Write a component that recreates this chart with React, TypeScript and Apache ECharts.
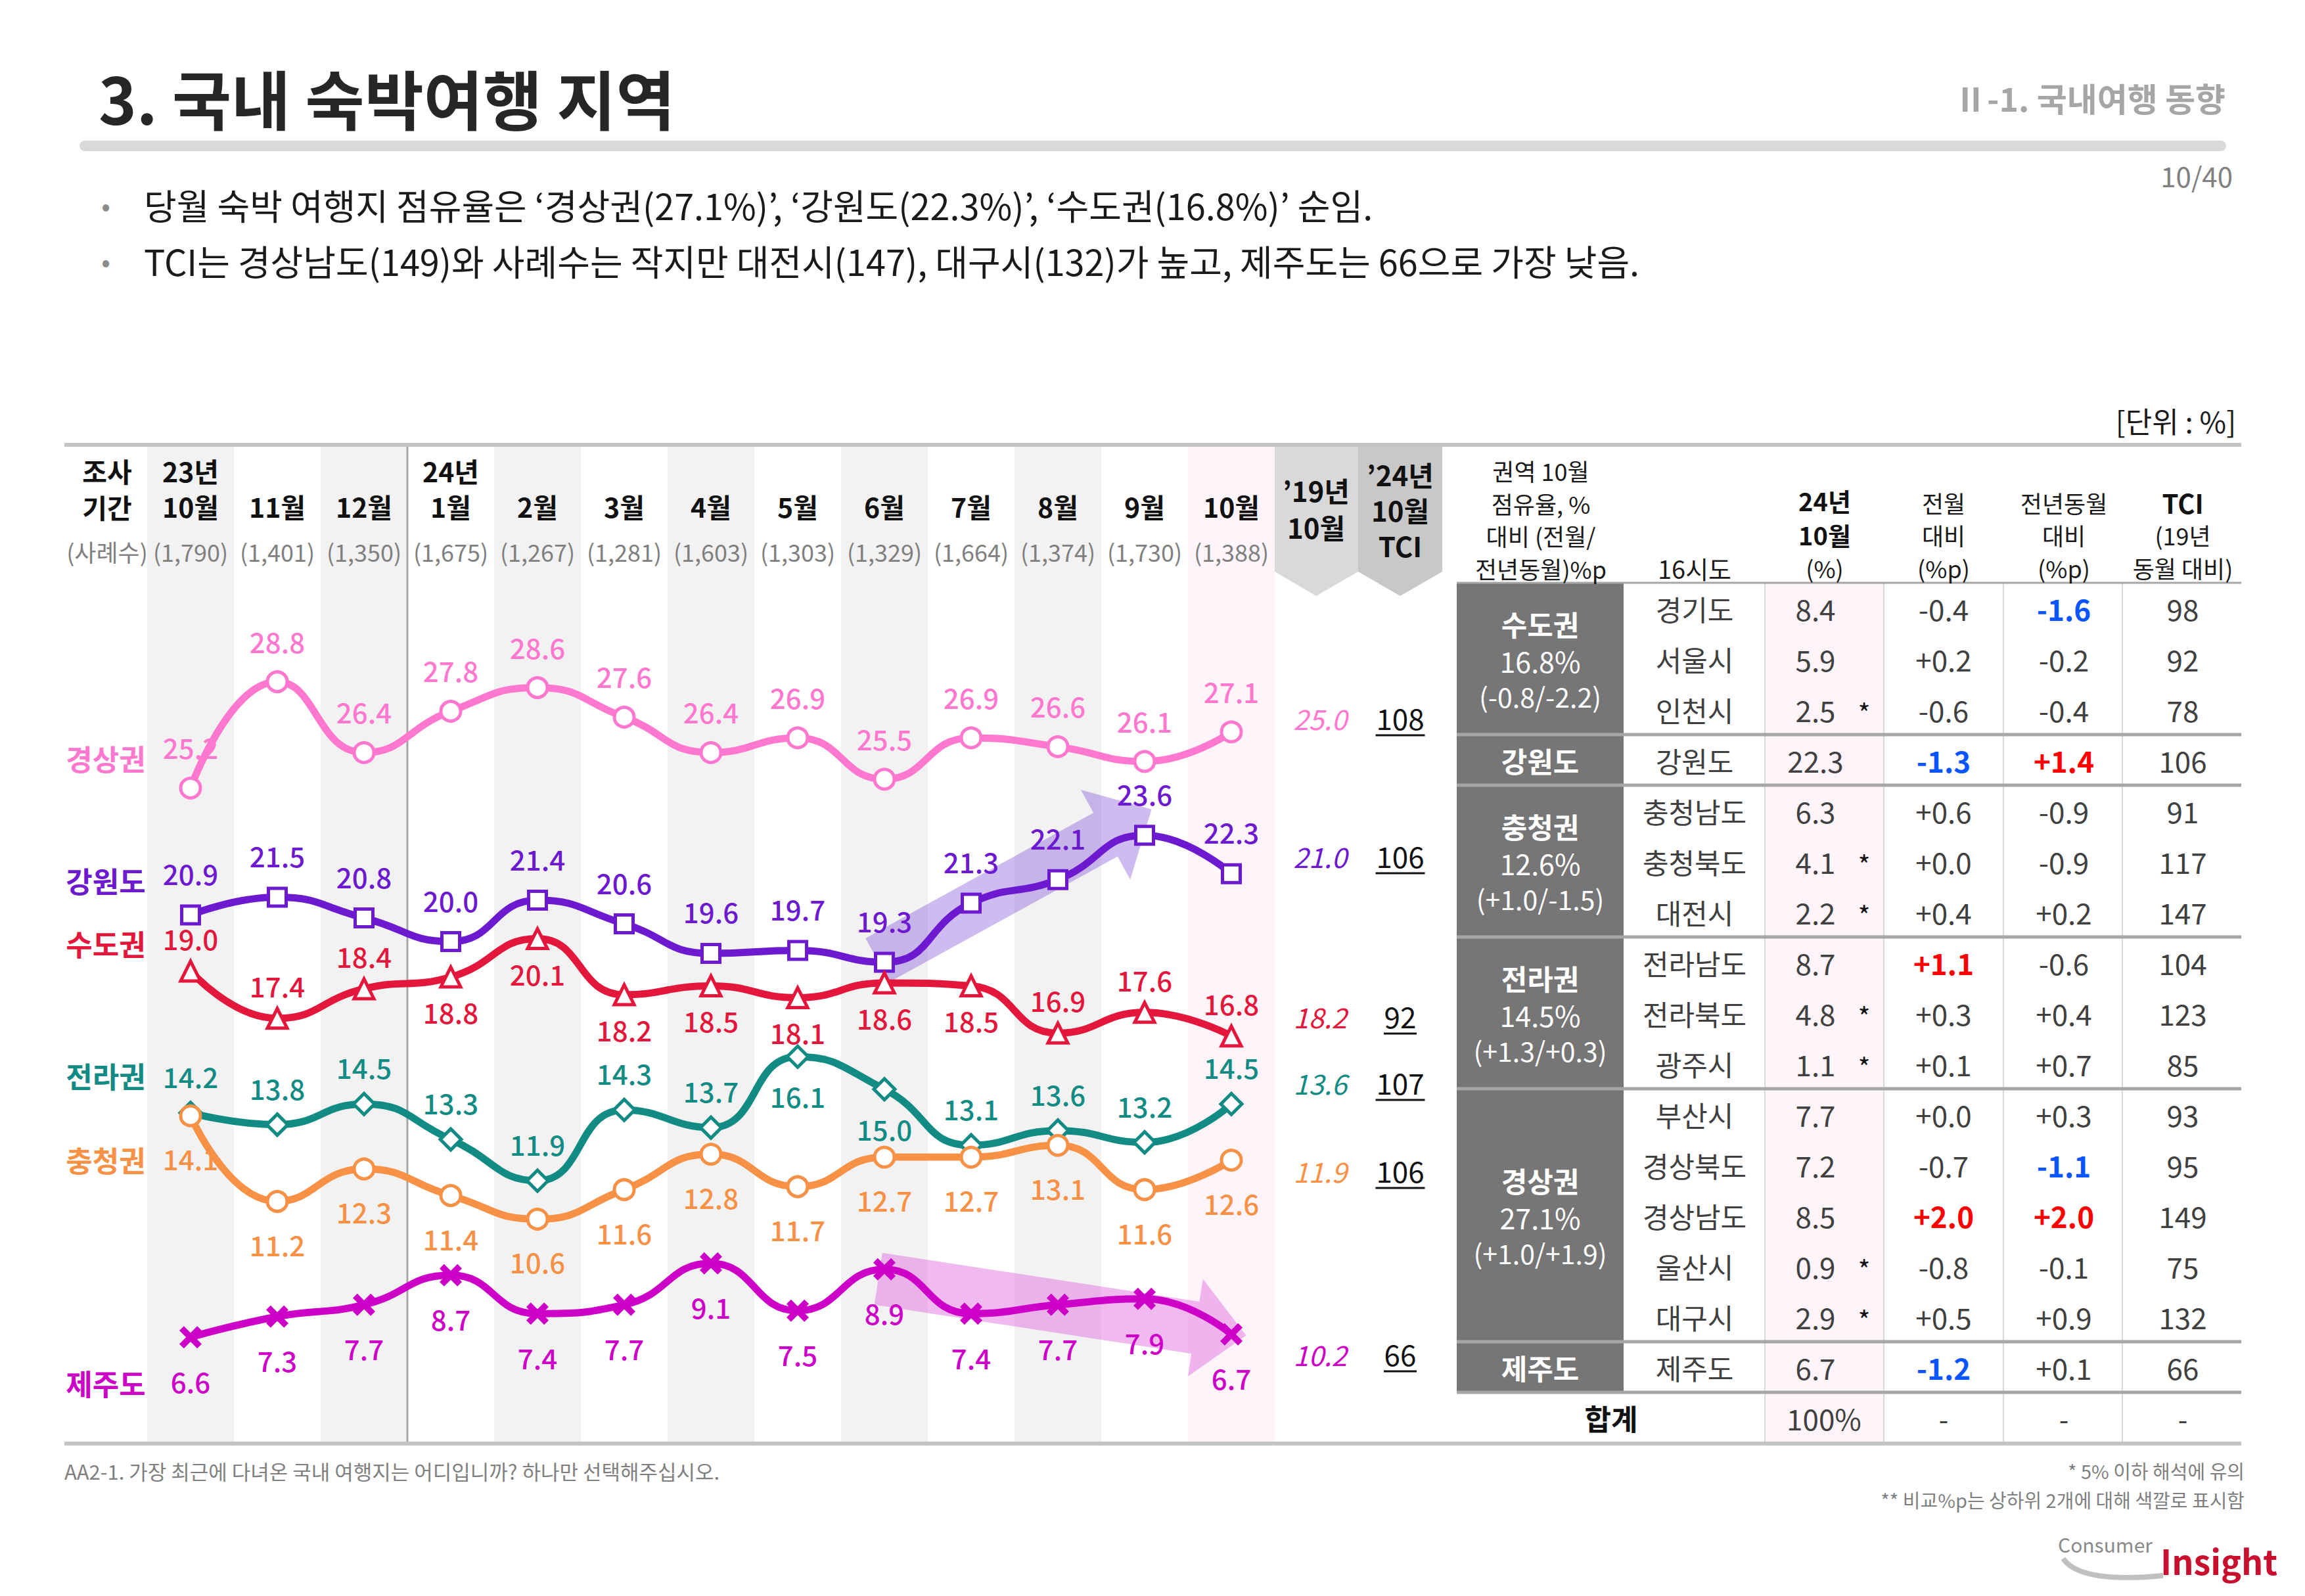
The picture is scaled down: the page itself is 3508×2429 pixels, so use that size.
import React, { useEffect, useRef } from 'react';
import * as echarts from 'echarts';

// ---------------- data ----------------
const yearRow = ['23년', '', '', '24년', '', '', '', '', '', '', '', '', ''];
const monthRow = ['10월', '11월', '12월', '1월', '2월', '3월', '4월', '5월', '6월', '7월', '8월', '9월', '10월'];
const sampleCounts = ['(1,790)', '(1,401)', '(1,350)', '(1,675)', '(1,267)', '(1,281)', '(1,603)', '(1,303)', '(1,329)', '(1,664)', '(1,374)', '(1,730)', '(1,388)'];

const seriesNames = ['경상권', '강원도', '수도권', '전라권', '충청권', '제주도'];
const gyeongsang = [25.2, 28.8, 26.4, 27.8, 28.6, 27.6, 26.4, 26.9, 25.5, 26.9, 26.6, 26.1, 27.1];
const gangwon = [20.9, 21.5, 20.8, 20.0, 21.4, 20.6, 19.6, 19.7, 19.3, 21.3, 22.1, 23.6, 22.3];
const sudo = [19.0, 17.4, 18.4, 18.8, 20.1, 18.2, 18.5, 18.1, 18.6, 18.5, 16.9, 17.6, 16.8];
const jeolla = [14.2, 13.8, 14.5, 13.3, 11.9, 14.3, 13.7, 16.1, 15.0, 13.1, 13.6, 13.2, 14.5];
const chungcheong = [14.1, 11.2, 12.3, 11.4, 10.6, 11.6, 12.8, 11.7, 12.7, 12.7, 13.1, 11.6, 12.6];
const jeju = [6.6, 7.3, 7.7, 8.7, 7.4, 7.7, 9.1, 7.5, 8.9, 7.4, 7.7, 7.9, 6.7];

const ref2019 = ['25.0', '21.0', '18.2', '13.6', '11.9', '10.2'];
const tci2024 = ['108', '106', '92', '107', '106', '66'];

// label placement (t = above, b = below)
const sudoLabelSide = ['t', 't', 't', 'b', 'b', 'b', 'b', 'b', 'b', 'b', 't', 't', 't'];
const jeollaLabelSide = ['t', 't', 't', 't', 't', 't', 't', 'b', 'b', 't', 't', 't', 't'];

// table
const provinces = ['경기도', '서울시', '인천시', '강원도', '충청남도', '충청북도', '대전시', '전라남도', '전라북도', '광주시', '부산시', '경상북도', '경상남도', '울산시', '대구시', '제주도'];
const provShare = [8.4, 5.9, 2.5, 22.3, 6.3, 4.1, 2.2, 8.7, 4.8, 1.1, 7.7, 7.2, 8.5, 0.9, 2.9, 6.7];
const provSmall = [false, false, true, false, false, true, true, false, true, true, false, false, false, true, true, false];
const provMoM = [-0.4, 0.2, -0.6, -1.3, 0.6, 0.0, 0.4, 1.1, 0.3, 0.1, 0.0, -0.7, 2.0, -0.8, 0.5, -1.2];
const provYoY = [-1.6, -0.2, -0.4, 1.4, -0.9, -0.9, 0.2, -0.6, 0.4, 0.7, 0.3, -1.1, 2.0, -0.1, 0.9, 0.1];
const provTCI = [98, 92, 78, 106, 91, 117, 147, 104, 123, 85, 93, 95, 149, 75, 132, 66];

const groupNames = ['수도권', '강원도', '충청권', '전라권', '경상권', '제주도'];
const groupShares = ['16.8%', '', '12.6%', '14.5%', '27.1%', ''];
const groupDiffs = ['(-0.8/-2.2)', '', '(+1.0/-1.5)', '(+1.3/+0.3)', '(+1.0/+1.9)', ''];
const groupSizes = [3, 1, 3, 3, 5, 1];

// ---------------- layout / style ----------------
const FF = '"Noto Sans CJK KR", "Noto Sans", sans-serif';
const COLORS = ['#ff78cf', '#6c19cf', '#e3173b', '#138b85', '#f79146', '#cc00c6'];
const GL = 224;
const GT = 678;
const BAND = 132;
const GH = 1519;
const YMIN = 3.0;
const YMAX = 36.8;

const px = (idx: number) => GL + (idx + 0.5) * BAND;
const py = (v: number) => GT + ((YMAX - v) / (YMAX - YMIN)) * GH;

function txt(text: string, x: number, y: number, o: any = {}) {
  return {
    type: 'text',
    x,
    y,
    z: o.z ?? 5,
    silent: true,
    style: {
      text,
      fill: o.fill ?? '#262626',
      fontSize: o.size ?? 40,
      fontWeight: o.weight ?? 'normal',
      fontStyle: o.fstyle ?? 'normal',
      fontFamily: FF,
      align: o.align ?? 'center',
      verticalAlign: 'middle',
    },
  };
}
function line(x1: number, y1: number, x2: number, y2: number, stroke: string, lw: number, z = 3) {
  return { type: 'line', z, silent: true, shape: { x1, y1, x2, y2 }, style: { stroke, lineWidth: lw } };
}
function rect(x: number, y: number, w: number, h: number, fill: string, z = 1, r = 0) {
  return { type: 'rect', z, silent: true, shape: { x, y, width: w, height: h, r }, style: { fill } };
}
function arrow(sx: number, sy: number, tx: number, ty: number, w: number, h: number, L: number, fill: string) {
  const dx = tx - sx, dy = ty - sy;
  const len = Math.sqrt(dx * dx + dy * dy);
  const ux = dx / len, uy = dy / len;
  const nx = -uy, ny = ux;
  const bx = tx - ux * L, by = ty - uy * L;
  const pts = [
    [sx + nx * w, sy + ny * w],
    [bx + nx * w, by + ny * w],
    [bx + nx * h, by + ny * h],
    [tx, ty],
    [bx - nx * h, by - ny * h],
    [bx - nx * w, by - ny * w],
    [sx - nx * w, sy - ny * w],
  ];
  return { type: 'polygon', z: 1, silent: true, shape: { points: pts }, style: { fill } };
}

function buildGraphics() {
  const g: any[] = [];
  // title area
  g.push(txt('3. 국내 숙박여행 지역', 150, 147, { size: 98, weight: 'bold', align: 'left', fill: '#262626' }));
  g.push(txt('Ⅱ-1. 국내여행 동향', 3387, 148, { size: 50, weight: 'bold', align: 'right', fill: '#a6a6a6' }));
  g.push(rect(121, 214, 3267, 16, '#d9d9d9', 1, 8));
  g.push(txt('10/40', 3398, 266, { size: 42, align: 'right', fill: '#808080' }));
  g.push(txt('•', 161, 311, { size: 40, fill: '#8c8c8c' }));
  g.push(txt('•', 161, 396, { size: 40, fill: '#8c8c8c' }));
  g.push(txt('당월 숙박 여행지 점유율은 \u2018경상권(27.1%)\u2019, \u2018강원도(22.3%)\u2019, \u2018수도권(16.8%)\u2019 순임.', 219, 311, { size: 54, align: 'left', fill: '#1a1a1a' }));
  g.push(txt('TCI는 경상남도(149)와 사례수는 작지만 대전시(147), 대구시(132)가 높고, 제주도는 66으로 가장 낮음.', 219, 396, { size: 54, align: 'left', fill: '#1a1a1a' }));
  g.push(txt('[단위 : %]', 3403, 640, { size: 44, align: 'right', fill: '#1a1a1a' }));

  // frame lines
  g.push(line(98, 677, 3411, 677, '#c4c4c4', 6, 4));
  g.push(line(98, 2197, 3411, 2197, '#c4c4c4', 6, 4));
  g.push(line(GL + 3 * BAND, 680, GL + 3 * BAND, 2194, '#a6a6a6', 3, 1));

  // left header column
  g.push(txt('조사', 163, 716, { size: 41, weight: 'bold', fill: '#111' }));
  g.push(txt('기간', 163, 771, { size: 41, weight: 'bold', fill: '#111' }));
  g.push(txt('(사례수)', 163, 839, { size: 36, fill: '#808080' }));

  // chevron headers
  const r0 = GL + 13 * BAND;
  g.push({ type: 'polygon', z: 1, silent: true, shape: { points: [[r0, 680], [r0 + 127, 680], [r0 + 127, 870], [r0 + 63, 907], [r0, 870]] }, style: { fill: '#d9d9d9' } });
  g.push({ type: 'polygon', z: 1, silent: true, shape: { points: [[r0 + 127, 680], [r0 + 255, 680], [r0 + 255, 870], [r0 + 191, 907], [r0 + 127, 870]] }, style: { fill: '#c8c8c8' } });
  g.push(txt('\u201919년', r0 + 63, 745, { size: 42, weight: 'bold', fill: '#111' }));
  g.push(txt('10월', r0 + 63, 801, { size: 42, weight: 'bold', fill: '#111' }));
  g.push(txt('\u201924년', r0 + 191, 721, { size: 42, weight: 'bold', fill: '#111' }));
  g.push(txt('10월', r0 + 191, 775, { size: 42, weight: 'bold', fill: '#111' }));
  g.push(txt('TCI', r0 + 191, 829, { size: 42, weight: 'bold', fill: '#111' }));

  // series name labels and side values
  const nameY = [1154, 1340, 1436, 1637, 1765, 2105];
  const sideY = [1092, 1302, 1546, 1647, 1781, 2060];
  seriesNames.forEach((n, i) => {
    g.push(txt(n, 161, nameY[i], { size: 44, weight: 'bold', fill: COLORS[i] }));
    g.push(txt(ref2019[i], 2009, sideY[i], { size: 42, fstyle: 'italic', fill: COLORS[i] }));
    g.push(txt(tci2024[i], 2131, sideY[i], { size: 44, fill: '#111' }));
    const hw = tci2024[i].length * 12.5;
    g.push(line(2131 - hw, sideY[i] + 27, 2131 + hw, sideY[i] + 27, '#111', 3, 5));
  });

  // arrows (data coordinates -> pixels)
  g.push(arrow(px(7.92), py(19.37), px(11.08), py(24.48), 38, 78, 80, 'rgba(125,75,215,0.38)'));
  g.push(arrow(px(7.93), py(8.58), px(12.17), py(6.66), 40, 75, 78, 'rgba(222,100,222,0.45)'));

  // ---------------- table ----------------
  const colX = [2217, 2471, 2686, 2867, 3049, 3230, 3411];
  const rowTop = 887, rowH = 77;
  const nRows = provinces.length;
  g.push(rect(colX[2], rowTop, colX[3] - colX[2], (nRows + 1) * rowH, '#fff4fa', 1));
  let start = 0;
  groupSizes.forEach((sz, gi) => {
    const y0 = rowTop + start * rowH;
    g.push(rect(colX[0], y0, colX[1] - colX[0], sz * rowH, '#767676', 2));
    const cy = y0 + (sz * rowH) / 2;
    if (groupShares[gi]) {
      g.push(txt(groupNames[gi], (colX[0] + colX[1]) / 2, cy - 54, { size: 43, weight: 'bold', fill: '#fff' }));
      g.push(txt(groupShares[gi], (colX[0] + colX[1]) / 2, cy + 2, { size: 43, fill: '#fff' }));
      g.push(txt(groupDiffs[gi], (colX[0] + colX[1]) / 2, cy + 56, { size: 41, fill: '#fff' }));
    } else {
      g.push(txt(groupNames[gi], (colX[0] + colX[1]) / 2, cy, { size: 43, weight: 'bold', fill: '#fff' }));
    }
    start += sz;
    g.push(line(colX[0], rowTop + start * rowH, colX[6], rowTop + start * rowH, '#a6a6a6', 5, 4));
  });
  g.push(line(colX[0], rowTop, colX[6], rowTop, '#a6a6a6', 3, 4));
  [colX[2], colX[3], colX[4], colX[5]].forEach((x) => g.push(line(x, rowTop, x, 2195, '#d9d9d9', 2, 3)));

  // highlight colours: top2 red / bottom2 blue
  const rankColor = (arr: number[], v: number) => {
    const s = [...arr].sort((a, b) => b - a);
    if (v >= s[1]) return '#ff0000';
    if (v <= s[s.length - 2]) return '#0a55ff';
    return null;
  };
  const fmt = (v: number) => (v >= 0 ? '+' : '-') + Math.abs(v).toFixed(1);
  const cx = [0, 2579, 2763, 2958, 3141, 3322];
  provinces.forEach((p, i) => {
    const cy = rowTop + (i + 0.5) * rowH;
    g.push(txt(p, cx[1], cy, { size: 43, fill: '#404040' }));
    g.push(txt(provShare[i].toFixed(1), cx[2], cy, { size: 44, fill: '#404040' }));
    if (provSmall[i]) g.push(txt('*', 2837, cy + 4, { size: 40, fill: '#111' }));
    const cm = rankColor(provMoM, provMoM[i]);
    g.push(txt(fmt(provMoM[i]), cx[3], cy, { size: 44, fill: cm ?? '#404040', weight: cm ? 'bold' : 'normal' }));
    const cyy = rankColor(provYoY, provYoY[i]);
    g.push(txt(fmt(provYoY[i]), cx[4], cy, { size: 44, fill: cyy ?? '#404040', weight: cyy ? 'bold' : 'normal' }));
    g.push(txt(String(provTCI[i]), cx[5], cy, { size: 44, fill: '#404040' }));
  });
  const ty = rowTop + (nRows + 0.5) * rowH;
  g.push(txt('합계', 2452, ty, { size: 44, weight: 'bold', fill: '#111' }));
  g.push(txt('100%', 2776, ty, { size: 44, fill: '#404040' }));
  [cx[3], cx[4], cx[5]].forEach((x) => g.push(txt('-', x, ty, { size: 42, fill: '#404040' })));

  // table header
  const hx = 2345;
  ['권역 10월', '점유율, %', '대비 (전월/', '전년동월)%p'].forEach((s, i) => g.push(txt(s, hx, 716 + i * 49.5, { size: 36, fill: '#1a1a1a' })));
  g.push(txt('16시도', cx[1], 864, { size: 38, fill: '#1a1a1a' }));
  g.push(txt('24년', 2777, 761, { size: 38, weight: 'bold', fill: '#111' }));
  g.push(txt('10월', 2777, 813, { size: 38, weight: 'bold', fill: '#111' }));
  g.push(txt('(%)', 2777, 864, { size: 36, fill: '#1a1a1a' }));
  g.push(txt('전월', cx[3], 765, { size: 36, fill: '#1a1a1a' }));
  g.push(txt('대비', cx[3], 814, { size: 36, fill: '#1a1a1a' }));
  g.push(txt('(%p)', cx[3], 864, { size: 36, fill: '#1a1a1a' }));
  g.push(txt('전년동월', cx[4], 765, { size: 36, fill: '#1a1a1a' }));
  g.push(txt('대비', cx[4], 814, { size: 36, fill: '#1a1a1a' }));
  g.push(txt('(%p)', cx[4], 864, { size: 36, fill: '#1a1a1a' }));
  g.push(txt('TCI', cx[5], 765, { size: 40, weight: 'bold', fill: '#111' }));
  g.push(txt('(19년', cx[5], 814, { size: 36, fill: '#1a1a1a' }));
  g.push(txt('동월 대비)', cx[5], 864, { size: 36, fill: '#1a1a1a' }));

  // footer
  g.push(txt('AA2-1. 가장 최근에 다녀온 국내 여행지는 어디입니까? 하나만 선택해주십시오.', 98, 2238, { size: 31, align: 'left', fill: '#7f7f7f' }));
  g.push(txt('* 5% 이하 해석에 유의', 3416, 2238, { size: 29, align: 'right', fill: '#7f7f7f' }));
  g.push(txt('** 비교%p는 상하위 2개에 대해 색깔로 표시함', 3416, 2282, { size: 29, align: 'right', fill: '#7f7f7f' }));
  g.push({ type: 'bezierCurve', z: 3, silent: true, shape: { x1: 3140, y1: 2372, cpx1: 3165, cpy1: 2410, x2: 3292, y2: 2398 }, style: { stroke: 'rgba(150,150,150,0.6)', lineWidth: 8, fill: 'none' } });
  g.push(txt('Consumer', 3132, 2350, { size: 30, align: 'left', fill: '#8a8a8a' }));
  g.push(txt('Insight', 3288, 2374, { size: 52, weight: 'bold', align: 'left', fill: '#c8102e' }));
  return g;
}

function makeSeries(idx: number, vals: number[], symbol: string, symbolSize: any, sides: string[] | null, dTop: number, dBottom: number, defaultSide: string, cross = false) {
  const c = COLORS[idx];
  return {
    type: 'line',
    name: seriesNames[idx],
    data: vals.map((v, i) => {
      const side = sides ? sides[i] : defaultSide;
      return { value: v, label: { position: side === 't' ? 'top' : 'bottom', distance: side === 't' ? dTop : dBottom } };
    }),
    smooth: 0.5,
    symbol,
    symbolSize,
    symbolKeepAspect: true,
    showAllSymbol: true,
    silent: true,
    lineStyle: { color: c, width: 11 },
    itemStyle: cross ? { color: c, borderWidth: 0 } : { color: '#ffffff', borderColor: c, borderWidth: 5 },
    label: {
      show: true,
      color: c,
      fontSize: 42,
      fontWeight: 500,
      fontFamily: FF,
      formatter: (p: any) => Number(p.value).toFixed(1),
    },
    emphasis: { disabled: true },
  };
}

const CROSS = 'path://M2,0 L5,3 L8,0 L10,2 L7,5 L10,8 L8,10 L5,7 L2,10 L0,8 L3,5 L0,2 Z';

function buildOption() {
  const bandColors = monthRow.map((_, i) => (i === monthRow.length - 1 ? '#fff4fa' : i % 2 === 0 ? '#f2f2f2' : '#ffffff'));
  return {
    animation: false,
    backgroundColor: '#ffffff',
    grid: { left: GL, top: GT, width: BAND * 13, height: GH, containLabel: false },
    xAxis: {
      type: 'category',
      position: 'top',
      data: monthRow,
      boundaryGap: true,
      axisLine: { show: false, onZero: false },
      axisTick: { show: false },
      splitLine: { show: false },
      splitArea: { show: true, interval: 0, areaStyle: { color: bandColors } },
      axisLabel: {
        inside: true,
        interval: 0,
        margin: 11,
        formatter: (v: string, i: number) => `{y|${yearRow[i] || '\u00a0'}}\n{m|${v}}\n{n|${sampleCounts[i]}}`,
        rich: {
          y: { fontSize: 41, fontWeight: 'bold', color: '#111', lineHeight: 54, fontFamily: FF },
          m: { fontSize: 41, fontWeight: 'bold', color: '#111', lineHeight: 54, fontFamily: FF },
          n: { fontSize: 36, color: '#808080', lineHeight: 84, fontFamily: FF },
        },
      },
    },
    yAxis: { type: 'value', min: YMIN, max: YMAX, show: false },
    series: [
      makeSeries(0, gyeongsang, 'circle', 30, null, 24, 24, 't'),
      makeSeries(1, gangwon, 'rect', 27, null, 27, 27, 't'),
      makeSeries(2, sudo, 'triangle', 30, sudoLabelSide, 12, 14, 't'),
      makeSeries(3, jeolla, 'diamond', 32, jeollaLabelSide, 17, 20, 't'),
      makeSeries(4, chungcheong, 'circle', 30, null, 26, 26, 'b'),
      makeSeries(5, jeju, CROSS, 34, null, 28, 28, 'b', true),
    ],
    graphic: buildGraphics(),
  };
}

export default function App() {
  const ref = useRef<HTMLDivElement>(null);
  useEffect(() => {
    document.body.style.margin = '0';
    const chart = echarts.init(ref.current as HTMLDivElement, null, { renderer: 'svg', width: 3508, height: 2429 });
    chart.setOption(buildOption() as any);
    return () => chart.dispose();
  }, []);
  return <div ref={ref} style={{ position: 'absolute', left: 0, top: 0, width: 3508, height: 2429, background: '#fff' }} />;
}
